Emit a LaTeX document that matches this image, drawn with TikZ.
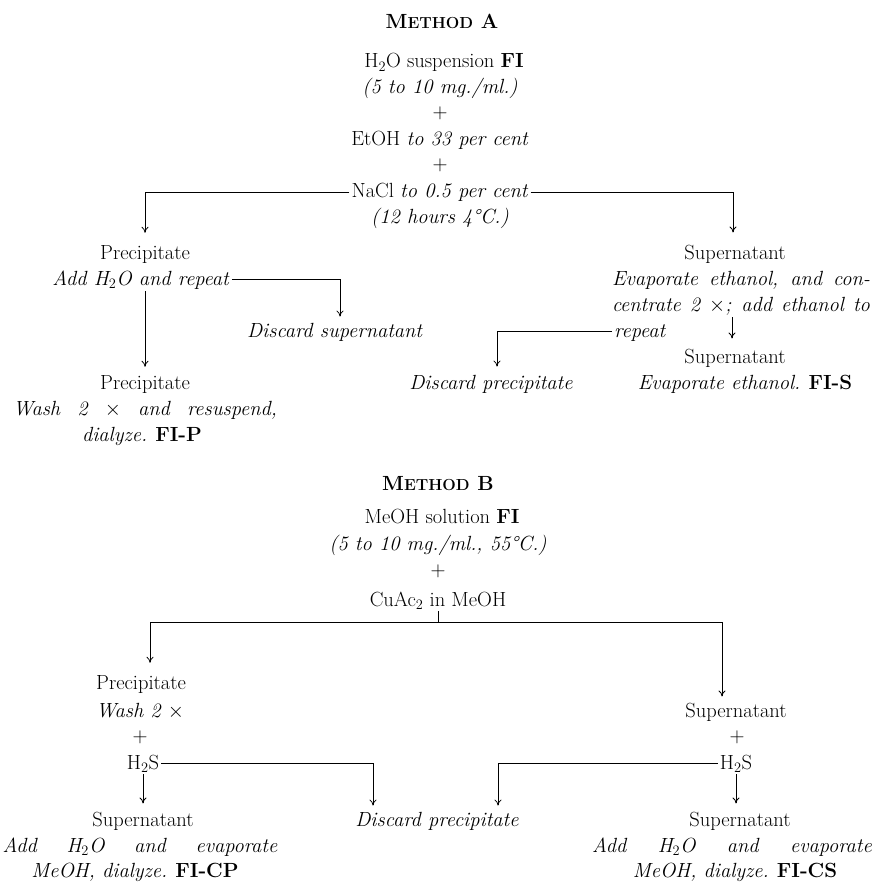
\documentclass[tikz,border=0pt]{standalone}
\usetikzlibrary{arrows.meta}
\newcommand\bodyfs{\fontsize{20.5}{25}\selectfont}
\newcommand\methodhead[1]{\textbf{M{\fontsize{16}{16}\selectfont ETHOD}\ #1}}
\begin{document}
\begin{tikzpicture}[x=1pt,y=-1pt,
  every node/.style={inner sep=2pt,font=\bodyfs},
  txt/.style={anchor=base},
  ln/.style={line width=0.8pt},
  arr/.style={ln,-{To[length=6pt,width=7pt]}}]
\useasboundingbox (0,0) rectangle (875,882);

% ---------------- Method A ----------------
\node[txt] (tA) at (442,29) {\methodhead{A}};
\node[txt] (a1) at (444,68) {H$_2$O suspension \textbf{FI}};
\node[txt] (a2) at (440,94) {\textit{(5 to 10 mg./ml.)}};
\node[txt] (p1) at (440,119) {$+$};
\node[txt] (a3) at (440,146) {EtOH \textit{to 33 per cent}};
\node[txt] (p2) at (440,171) {$+$};
\node[txt] (nacl) at (440,198) {NaCl \textit{to 0.5 per cent}};
\node[txt] (a4) at (440,224) {\textit{(12 hours 4°C.)}};

\node[txt] (pA) at (145,259) {Precipitate};
\node[txt] (addA) at (141,285) {\textit{Add H$_2$O and repeat}};
\node[txt] (dsA) at (335,337) {\textit{Discard supernatant}};
\node[txt] (pA2) at (145,389) {Precipitate};
\node[txt] (wA) at (145,415) {\makebox[264pt][s]{\textit{Wash 2 $\times$ and resuspend,}}};
\node[txt] (dA) at (142,441) {\textit{dialyze.} \textbf{FI-P}};

\node[txt] (sA) at (735,259) {Supernatant};
\node[txt] (e1) at (741,285) {\makebox[258pt][s]{\textit{Evaporate ethanol, and con-}}};
\node[txt] (e2) at (741,311) {\makebox[258pt][s]{\textit{centrate 2 $\times$; add ethanol to}}};
\node[txt,anchor=base west] (e3) at (612,337) {\textit{repeat}};
\node[txt] (sA2) at (735,363) {Supernatant};
\node[txt] (fs) at (745,389) {\textit{Evaporate ethanol.} \textbf{FI-S}};
\node[txt] (dpA) at (491,389) {\textit{Discard precipitate}};

\draw[arr] ([yshift=5.5pt]nacl.base west) -| ([yshift=10pt]pA.north);
\draw[arr] ([yshift=5.5pt]nacl.base east) -| ([xshift=-2pt,yshift=10pt]sA.north);
\draw[arr] ([yshift=5.5pt]addA.base east) -| ([xshift=5pt,yshift=4pt]dsA.north);
\draw[arr] (addA.south -| pA2.north) -- ([yshift=6pt]pA2.north);
\draw[arr] ([xshift=-3pt]e2.south -| sA2.north) -- ([xshift=-3pt,yshift=8pt]sA2.north);
\draw[arr] ([yshift=5.5pt]e3.base west) -| ([xshift=6pt,yshift=6pt]dpA.north);

% ---------------- Method B ----------------
\node[txt] (tB) at (438,490) {\methodhead{B}};
\node[txt] (b1) at (442,523) {MeOH solution \textbf{FI}};
\node[txt] (b2) at (438,550) {\textit{(5 to 10 mg./ml., 55°C.)}};
\node[txt] (p3) at (438,576) {$+$};
\node[txt] (cu) at (438,606) {CuAc$_2$ in MeOH};
\coordinate (jB) at (438,622);

\node[txt] (pB) at (141,689) {Precipitate};
\node[txt] (wB) at (140,717) {\textit{Wash 2 $\times$}};
\node[txt] (p4) at (140,742) {$+$};
\node[txt] (hL) at (143,769) {H$_2$S};
\node[txt] (sL) at (143,826) {Supernatant};
\node[txt] (aL) at (140,852) {\makebox[275pt][s]{\textit{Add H$_2$O and evaporate}}};
\node[txt] (mL) at (135,877) {\textit{MeOH, dialyze.} \textbf{FI-CP}};

\node[txt] (dB) at (437,826) {\textit{Discard precipitate}};

\node[txt] (sR) at (736,717) {Supernatant};
\node[txt] (p5) at (737,742) {$+$};
\node[txt] (hR) at (736,769) {H$_2$S};
\node[txt] (sR2) at (740,826) {Supernatant};
\node[txt] (aR) at (732,852) {\makebox[280pt][s]{\textit{Add H$_2$O and evaporate}}};
\node[txt] (mR) at (735,877) {\textit{MeOH, dialyze.} \textbf{FI-CS}};

\draw[ln] (cu.south) -- (jB);
\draw[arr] (jB) -| ([xshift=9pt,yshift=10pt]pB.north);
\draw[arr] (jB) -| ([xshift=-14pt,yshift=4pt]sR.north);
\draw[arr] (hL.south) -- ([yshift=6pt]hL.south |- sL.north);
\draw[arr] ([yshift=6pt]hL.base east) -| ([xshift=-64pt,yshift=4pt]dB.north);
\draw[arr] ([yshift=6pt]hR.base west) -| ([xshift=61pt,yshift=4pt]dB.north);
\draw[arr] (hR.south) -- ([yshift=6pt]hR.south |- sR2.north);
\end{tikzpicture}
\end{document}
